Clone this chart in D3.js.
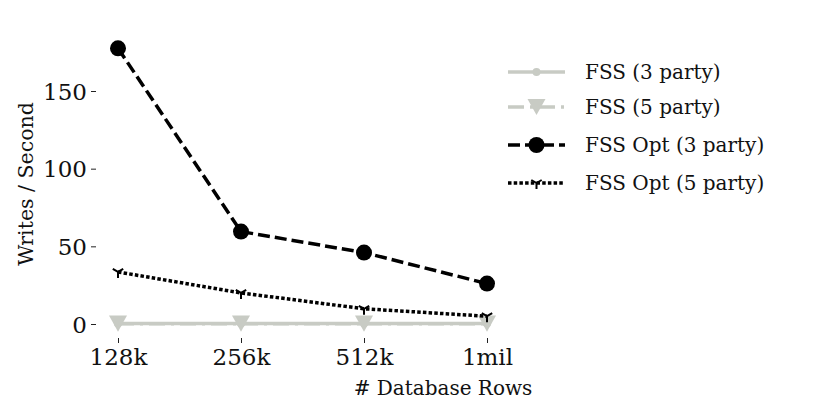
<!DOCTYPE html>
<html><head><meta charset="utf-8">
<script src="https://cdn.jsdelivr.net/npm/d3@7"></script>
<style>body{margin:0;background:#fff}svg{display:block}</style>
</head><body><svg id="c" width="830" height="415"></svg>
<script>
const categories = ["128k","256k","512k","1mil"];
const fss3 = [0.3,0.3,0.3,0.3];
const fss5 = [0.2,0.2,0.2,0.2];
const opt3 = [177.5,59.5,46,26];
const opt5 = [33.5,20,9.8,5];
const yTicks = [0,50,100,150];
const seriesNames = ["FSS (3 party)","FSS (5 party)","FSS Opt (3 party)","FSS Opt (5 party)"];

const FONT = "'DejaVu Serif', serif";
const grey = "#c8cbc4";
const svg = d3.select("#c");
const x = d3.scalePoint().domain(categories).range([118,487]);
const y = d3.scaleLinear().domain([0,150]).range([324,91]);

const yAxis = d3.axisLeft(y).tickValues(yTicks).tickSize(5).tickPadding(4);
const gy = svg.append("g").attr("transform","translate(96,0)").call(yAxis);
gy.select(".domain").remove();
gy.selectAll(".tick line").attr("stroke","#222").attr("stroke-width",1);
gy.selectAll("text").attr("font-family",FONT).style("font-family",FONT).style("font-size","23px").attr("fill","#111").attr("dy","0.35em");

const xAxis = d3.axisBottom(x).tickSize(5).tickPadding(4);
const gx = svg.append("g").attr("transform","translate(0,338)").call(xAxis);
gx.select(".domain").remove();
gx.selectAll(".tick line").attr("stroke","#222").attr("stroke-width",1);
gx.selectAll("text").attr("font-family",FONT).style("font-family",FONT).style("font-size","23px").attr("fill","#111").attr("dy","0.78em");

function txt(sel){return sel.style("font-family",FONT).attr("fill","#111");}
txt(svg.append("text").attr("x",443).attr("y",395).attr("text-anchor","middle").style("font-size","20px").text("# Database Rows"));
txt(svg.append("text").attr("transform","translate(33,184) rotate(-90)").attr("text-anchor","middle").style("font-size","20.5px").text("Writes / Second"));

const line = d3.line().x((d,i)=>x(categories[i])).y(d=>y(d));

function circle(g,cx,cy,r,col){g.append("circle").attr("cx",cx).attr("cy",cy).attr("r",r).attr("fill",col);}
function tri(g,cx,cy,s,col){g.append("path").attr("d",`M${cx-s},${cy-s*0.9}L${cx+s},${cy-s*0.9}L${cx},${cy+s*0.9}Z`).attr("fill",col);}
function yMark(g,cx,cy,s,col){g.append("path").attr("d",`M${cx},${cy}L${cx},${cy+s}M${cx},${cy}L${cx-s*0.87},${cy-s*0.5}M${cx},${cy}L${cx+s*0.87},${cy-s*0.5}`).attr("stroke",col).attr("stroke-width",2).attr("fill","none");}

const series = [
  {data:fss3,col:grey,dash:null,w:3.5,mk:(g,a,b)=>circle(g,a,b,4,grey)},
  {data:fss5,col:grey,dash:"16,6,3,6",w:3.5,mk:(g,a,b)=>tri(g,a,b,9,grey)},
  {data:opt3,col:"#000",dash:"12,5",w:3.5,mk:(g,a,b)=>circle(g,a,b,8,"#000")},
  {data:opt5,col:"#000",dash:"3.5,2.2",w:3.5,mk:(g,a,b)=>yMark(g,a,b,6,"#000")}
];
series.forEach(s=>{
  const p = svg.append("path").datum(s.data).attr("d",line).attr("fill","none").attr("stroke",s.col).attr("stroke-width",s.w);
  if(s.dash) p.attr("stroke-dasharray",s.dash);
  const g = svg.append("g");
  s.data.forEach((d,i)=>s.mk(g,x(categories[i]),y(d)));
});

const ly = [72,107,145,183];
series.forEach((s,i)=>{
  const g = svg.append("g");
  const l = g.append("line").attr("x1",508).attr("x2",565).attr("y1",ly[i]).attr("y2",ly[i]).attr("stroke",s.col).attr("stroke-width",s.w);
  if(s.dash) l.attr("stroke-dasharray",s.dash);
  s.mk(g,536.5,ly[i]);
  txt(g.append("text").attr("x",585).attr("y",ly[i]).attr("dy","0.35em").style("font-size","20px").text(seriesNames[i]));
});
</script></body></html>
